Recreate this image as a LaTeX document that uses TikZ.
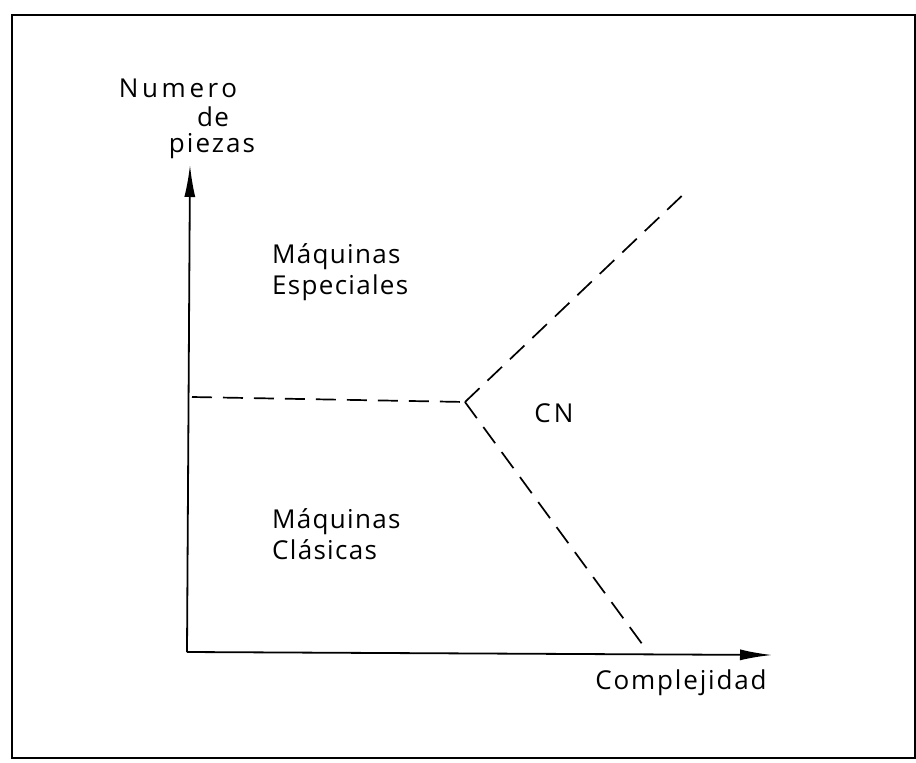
\documentclass[tikz,border=0pt]{standalone}
\usepackage{fontspec}
\setmainfont{Open Sans}[LetterSpace=5]
\usetikzlibrary{arrows.meta}
\begin{document}
\begin{tikzpicture}[x=1pt,y=-1pt,
  axis/.style={line width=1.8pt,-{Latex[length=32pt,width=11pt]}},
  bound/.style={line width=1.7pt,dash pattern=on 20pt off 11pt},
  lbl/.style={font=\fontsize{26}{31}\selectfont,inner sep=0pt},
  lblL/.style={lbl,anchor=west,align=left}]
\useasboundingbox (0,0) rectangle (916,763);
\node[draw,line width=2.4pt,minimum width=903pt,minimum height=743pt,anchor=north west,inner sep=0pt] (frame) at (11,14) {};
\coordinate (O) at (187,652);
\coordinate (ytip) at (190,165);
\coordinate (xtip) at (772,655);
\draw[axis] (O) -- (ytip);
\draw[axis] (O) -- (xtip);
\coordinate (hstart) at (192,397);
\coordinate (V) at (465,402);
\coordinate (up) at (688,190);
\coordinate (down) at (648,652);
\draw[bound] (hstart) -- (V);
\draw[bound] (V) -- (up);
\draw[bound] (V) -- (down);
\node[lbl] (num) at (178,88) {\addfontfeatures{LetterSpace=14}Numero};
\node[lbl] (de) at (213,117) {de};
\node[lbl] (pz) at (212,146) {\addfontfeatures{LetterSpace=8}piezas};
\node[lblL] (esp) at (272,272) {Máquinas\\Especiales};
\node[lbl] (cn) at (554,413) {\addfontfeatures{LetterSpace=12}CN};
\node[lblL] (cla) at (272,534) {Máquinas\\Clásicas};
\node[lbl] (comp) at (681,683) {\addfontfeatures{LetterSpace=7}Complejidad};
\end{tikzpicture}
\end{document}
